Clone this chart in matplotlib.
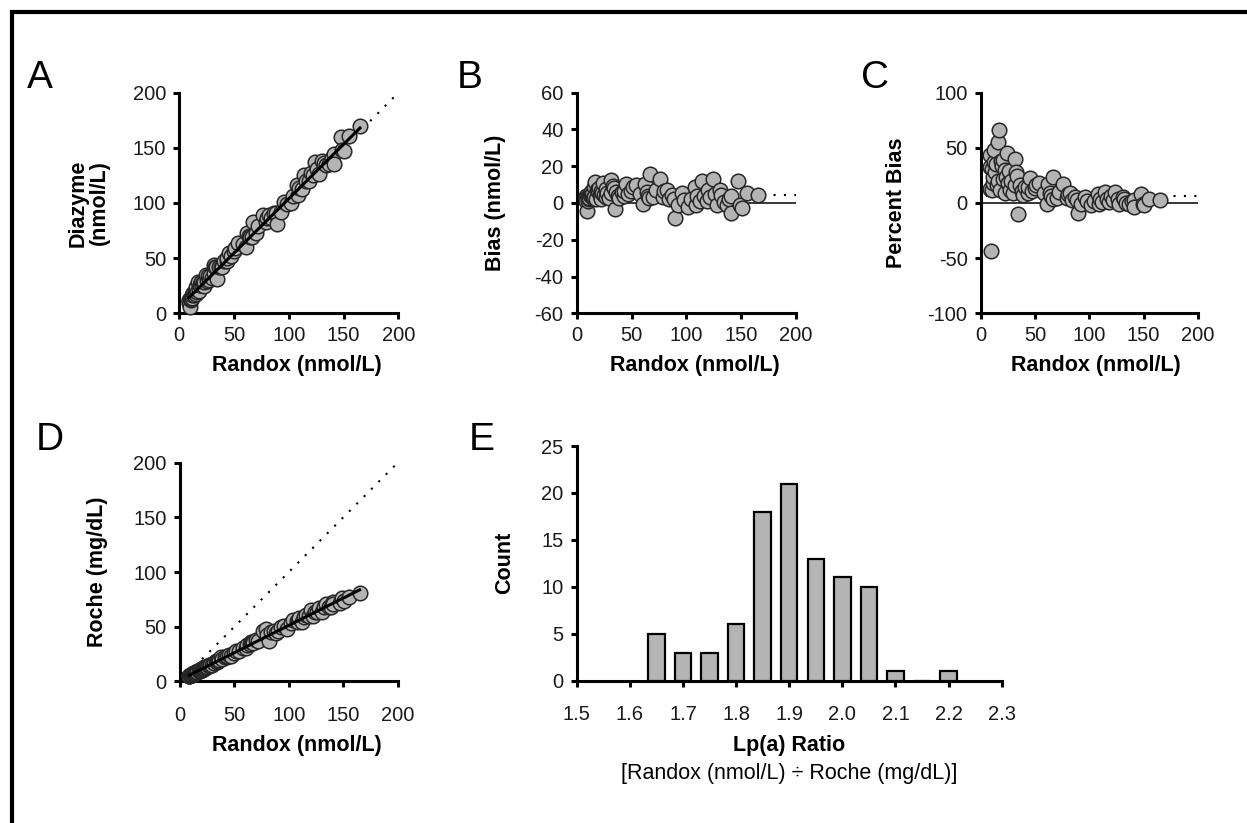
import numpy as np
import matplotlib
matplotlib.use("Agg")
import matplotlib.pyplot as plt
from matplotlib.patches import Rectangle

plt.rcParams['font.family'] = ['Liberation Sans', 'DejaVu Sans']
plt.rcParams['axes.unicode_minus'] = False

W, H = 1247, 823

randox = [8.5, 8.5, 8.5, 9.5, 10.0, 10.7, 11.0, 11.6, 12.0, 12.6,
          13.0, 14.0, 15.0, 15.6, 16.0, 17.1, 18.0, 18.5, 19.3, 20.2,
          20.8, 22.0, 22.3, 23.0, 24.0, 25.0, 26.4, 27.0, 28.0, 29.8,
          31.6, 31.6, 32.8, 33.7, 34.6, 36.0, 38.0, 39.0, 41.0, 43.5,
          43.5, 45.0, 47.0, 49.6, 51.0, 54.0, 58.0, 60.8, 62.0, 64.0,
          65.0, 66.3, 67.0, 70.0, 72.0, 76.0, 79.0, 80.0, 82.0, 84.0,
          86.6, 88.6, 89.6, 92.7, 95.7, 98.0, 101.8, 104.0, 107.6, 108.8,
          109.4, 112.0, 114.0, 116.0, 118.5, 120.0, 122.0, 124.0, 126.0, 127.7,
          130.7, 132.0, 134.0, 136.8, 139.0, 141.0, 141.0, 147.4, 149.0, 150.4,
          155.0, 165.0]
bias = [3.7, 2.8, 1.1, -4.1, 3.1, 1.3, 2.0, 2.7, 4.5, 6.0,
        3.6, 4.9, 2.5, 8.6, 3.2, 11.3, 2.2, 7.0, 6.4, 7.9,
        4.5, 6.6, 2.0, 5.5, 10.8, 4.5, 7.7, 3.2, 5.5, 2.6,
        12.6, 5.2, 9.3, 8.1, -3.5, 6.0, 4.0, 2.8, 6.0, 3.8,
        6.4, 10.1, 5.0, 6.6, 8.5, 9.7, 5.0, -0.7, 10.4, 6.0,
        4.0, 2.6, 15.9, 3.0, 7.0, 13.3, 3.5, 6.5, 7.1, 2.0,
        4.4, 2.4, -8.4, -1.1, 5.3, 1.5, -2.0, 2.0, 8.6, -1.1,
        3.8, 1.0, 11.7, 4.0, 1.1, 7.1, 3.0, 12.9, 5.0, -1.1,
        7.1, 4.4, 0.5, -1.1, 2.0, 3.8, -5.3, 12.0, -1.1, -2.9,
        5.6, 4.4]
# Roche values (mg/dL) for the same samples
roche = [5.2, 4.7, 4.5, 5.6, 6.1, 5.8, 5.8, 6.6, 7.3, 6.8,
         7.2, 7.4, 8.1, 9.2, 8.2, 9.5, 9.5, 10.0, 11.0, 10.6,
         11.2, 13.3, 11.7, 12.4, 13.3, 12.8, 13.9, 14.6, 14.7, 14.9,
         17.1, 16.6, 18.2, 17.3, 18.2, 19.5, 22.4, 20.5, 22.2, 22.3,
         22.9, 24.3, 23.5, 26.1, 27.6, 27.7, 30.5, 30.4, 33.5, 33.7,
         36.1, 35.8, 35.3, 37.8, 36.9, 46.1, 47.9, 42.1, 37.3, 45.4,
         45.6, 44.3, 45.9, 50.1, 50.4, 47.8, 53.6, 56.2, 55.2, 54.4,
         57.6, 54.6, 58.5, 61.1, 59.3, 64.9, 59.5, 63.6, 63.0, 67.2,
         63.8, 67.7, 70.5, 68.4, 67.8, 72.3, 70.5, 71.9, 76.4, 73.4,
         77.5, 80.5]
# histogram of Lp(a) ratio (panel E)
ratio_bins = [1.65, 1.70, 1.75, 1.80, 1.85, 1.90, 1.95, 2.00, 2.05, 2.10, 2.15, 2.20]
ratio_counts = [5, 3, 3, 6, 18, 21, 13, 11, 10, 1, 0, 1]
# dotted reference levels in panels B and C
bias_ref = 4.4
pct_ref = 6.3

randox = np.array(randox)
bias = np.array(bias)
roche = np.array(roche)
diazyme = randox + bias
pct_bias = 100 * bias / randox

fig = plt.figure(figsize=(W / 100, H / 100), dpi=100)


def make_ax(l, t, r, b):
    return fig.add_axes([l / W, 1 - b / H, (r - l) / W, (b - t) / H])


def style(ax, xpad=4.5):
    for s in ['top', 'right']:
        ax.spines[s].set_visible(False)
    for s in ['left', 'bottom']:
        ax.spines[s].set_linewidth(2.2)
    ax.tick_params(direction='out', length=4.5, width=2.2, labelsize=14.5,
                   labelcolor='#1a1a1a')
    ax.tick_params(axis='x', pad=xpad)
    ax.tick_params(axis='y', pad=5)


def ftext(x, y, s, **kw):
    fig.text(x / W, 1 - y / H, s, **kw)


pt_kw = dict(s=110, facecolor='#b4b4b4', edgecolor='#262626', linewidths=1.1,
             zorder=3, clip_on=False)
dot = (0, (1, 4))

# A: Diazyme vs Randox
axA = make_ax(179.3, 92.7, 398.3, 313.3)
style(axA)
axA.plot([0, 200], [0, 200], color='black', lw=1.5, ls=dot, zorder=2)
axA.scatter(randox, diazyme, **pt_kw)
coef = np.polyfit(randox, diazyme, 1)
xs = np.array([randox.min(), randox.max()])
axA.plot(xs, np.polyval(coef, xs), color='black', lw=2.2, zorder=4)
axA.set_xlim(0, 200)
axA.set_ylim(0, 200)
axA.set_xticks(range(0, 201, 50))
axA.set_yticks(range(0, 201, 50))

# B: bias
axB = make_ax(576.7, 92.7, 796.0, 313.3)
style(axB)
axB.axhline(0, color='black', lw=1.1, zorder=2)
axB.plot([randox.min(), 200], [bias_ref, bias_ref], color='black', lw=1.5, ls=dot, zorder=2)
axB.scatter(randox, bias, **pt_kw)
axB.set_xlim(0, 200)
axB.set_ylim(-60, 60)
axB.set_xticks(range(0, 201, 50))
axB.set_yticks(range(-60, 61, 20))

# C: percent bias
axC = make_ax(980.7, 92.7, 1198.0, 313.3)
style(axC)
axC.axhline(0, color='black', lw=1.1, zorder=2)
axC.plot([5, 200], [pct_ref, pct_ref], color='black', lw=1.5, ls=dot, zorder=2)
axC.scatter(randox, pct_bias, **pt_kw)
axC.set_xlim(0, 200)
axC.set_ylim(-100, 100)
axC.set_xticks(range(0, 201, 50))
axC.set_yticks(range(-100, 101, 50))

# D: Roche vs Randox
axD = make_ax(180.0, 462.7, 397.7, 681.3)
style(axD, xpad=13)
axD.plot([0, 200], [0, 200], color='black', lw=1.5, ls=dot, zorder=2)
axD.scatter(randox, roche, **pt_kw)
coefD = np.polyfit(randox, roche, 1)
axD.plot(xs, np.polyval(coefD, xs), color='black', lw=2.2, zorder=4)
axD.set_xlim(0, 200)
axD.set_ylim(0, 200)
axD.set_xticks(range(0, 201, 50))
axD.set_yticks(range(0, 201, 50))

# E: histogram of ratio
axE = make_ax(576.7, 446.0, 1001.7, 680.7)
style(axE, xpad=13)
axE.bar(ratio_bins, ratio_counts, width=0.031, color='#b4b4b4',
        edgecolor='black', linewidth=1.6, zorder=3)
axE.set_xlim(1.5, 2.3)
axE.set_ylim(0, 25)
axE.set_xticks(np.round(np.arange(1.5, 2.31, 0.1), 1))
axE.set_xticklabels(['%.1f' % v for v in np.arange(1.5, 2.31, 0.1)])
axE.set_yticks(range(0, 26, 5))

# axis labels
lab = dict(fontsize=15.5, fontweight='bold', ha='center', va='center', color='black')
ftext(297, 366, 'Randox (nmol/L)', **lab)
ftext(695, 366, 'Randox (nmol/L)', **lab)
ftext(1096, 366, 'Randox (nmol/L)', **lab)
ftext(297, 746, 'Randox (nmol/L)', **lab)
ftext(789, 745, 'Lp(a) Ratio', **lab)
ftext(789, 773, '[Randox (nmol/L) \u00f7 Roche (mg/dL)]', fontsize=15.5,
      ha='center', va='center', color='black')
ftext(89, 203, 'Diazyme\n(nmol/L)', rotation=90, linespacing=1.0, **lab)
ftext(496, 203, 'Bias (nmol/L)', rotation=90, **lab)
ftext(897, 203, 'Percent Bias', rotation=90, **lab)
ftext(98, 572, 'Roche (mg/dL)', rotation=90, **lab)
ftext(505, 563, 'Count', rotation=90, **lab)

# panel letters
let = dict(fontsize=28, ha='left', va='baseline', color='black')
ftext(27, 88, 'A', **let)
ftext(457, 88, 'B', **let)
ftext(861, 88, 'C', **let)
ftext(36, 450, 'D', **let)
ftext(469, 450, 'E', **let)

# outer frame
fig.add_artist(Rectangle((12 / W, -0.05), 1.1, 1 - 12 / H + 0.05,
                         transform=fig.transFigure, fill=False, lw=3,
                         edgecolor='black', clip_on=False))

fig.savefig('out.png', dpi=100)
